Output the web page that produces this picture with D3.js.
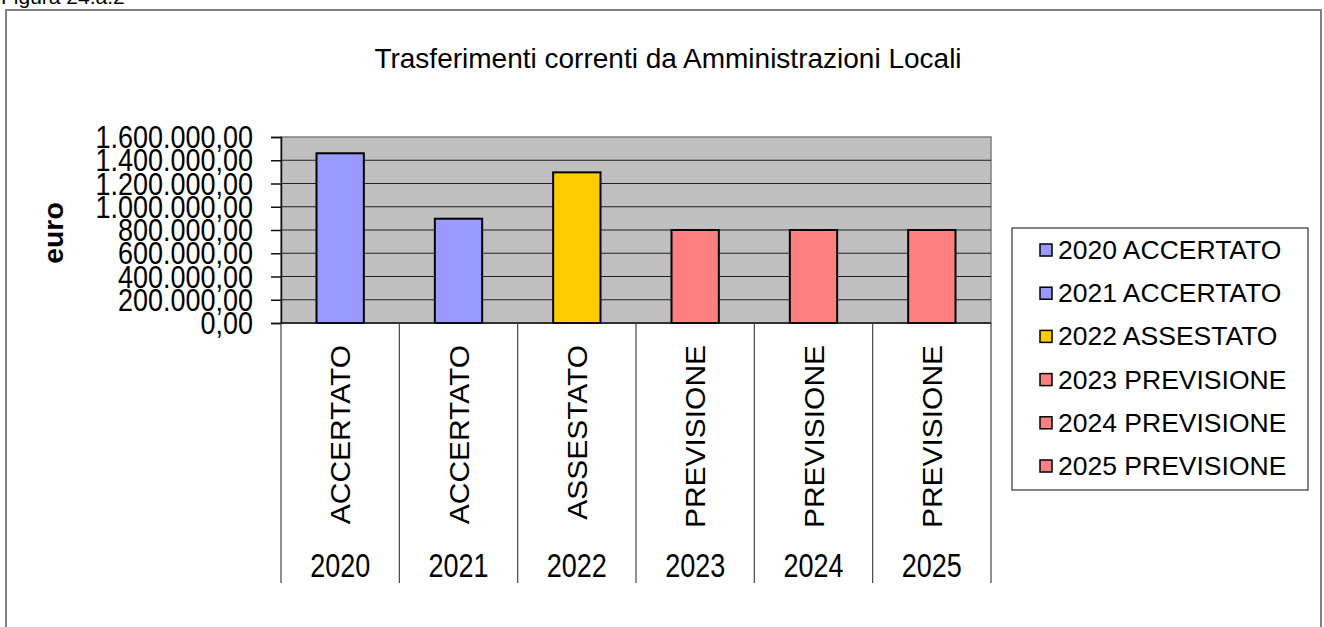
<!DOCTYPE html>
<html>
<head>
<meta charset="utf-8">
<script src="https://cdn.jsdelivr.net/npm/d3@7"></script>
<style>
  body { margin: 0; background: #fff; }
  svg { display: block; font-family: "Liberation Sans", Arial, sans-serif; }
</style>
</head>
<body>
<div id="chart"></div>
<script>
var years = ["2020", "2021", "2022", "2023", "2024", "2025"];
var states = ["ACCERTATO", "ACCERTATO", "ASSESTATO", "PREVISIONE", "PREVISIONE", "PREVISIONE"];
var values = [1460000, 897000, 1296000, 800000, 800000, 800000];
var colors = ["#9999ff", "#9999ff", "#ffcc00", "#ff8080", "#ff8080", "#ff8080"];
var yTicks = [0, 200000, 400000, 600000, 800000, 1000000, 1200000, 1400000, 1600000];

var width = 1324, height = 627;
var plot = { left: 281, right: 991, top: 137, bottom: 323 };

var it = d3.formatLocale({ decimal: ",", thousands: ".", grouping: [3], currency: ["", " €"] });
var fmt = it.format(",.2f");

var svg = d3.select("#chart").append("svg")
    .attr("width", width)
    .attr("height", height);

// caption of the figure, cut off by the top edge
svg.append("text")
    .attr("x", 1).attr("y", 4)
    .style("font-size", "21px")
    .text("Figura 24.a.2");

// outer frame
svg.append("rect")
    .attr("x", 6).attr("y", 10)
    .attr("width", 1315).attr("height", 640)
    .style("fill", "none")
    .style("stroke", "#808080")
    .style("stroke-width", 2);

svg.append("text")
    .attr("x", 668).attr("y", 68)
    .attr("text-anchor", "middle")
    .style("font-size", "28px")
    .text("Trasferimenti correnti da Amministrazioni Locali");

var x = d3.scaleBand()
    .domain(years)
    .range([plot.left, plot.right])
    .padding(0);

var y = d3.scaleLinear()
    .domain([0, 1600000])
    .range([plot.bottom, plot.top]);

// plot area
svg.append("rect")
    .attr("x", plot.left).attr("y", plot.top)
    .attr("width", plot.right - plot.left)
    .attr("height", plot.bottom - plot.top)
    .style("fill", "#c0c0c0")
    .style("stroke", "#808080")
    .style("stroke-width", 1.5);

// gridlines
svg.selectAll(".grid")
    .data(yTicks.filter(function (d) { return d > 0 && d < 1600000; }))
    .enter()
    .append("line")
    .attr("x1", plot.left).attr("x2", plot.right)
    .attr("y1", function (d) { return y(d); })
    .attr("y2", function (d) { return y(d); })
    .style("stroke", "#222")
    .style("stroke-width", 1.2);

// y axis
var yAxis = svg.append("g")
    .attr("transform", "translate(" + plot.left + ",0)")
    .call(d3.axisLeft(y).tickValues(yTicks).tickSize(10).tickFormat(""));
yAxis.select(".domain").style("stroke", "#111").style("stroke-width", 1.5);
yAxis.selectAll(".tick line").style("stroke", "#111").style("stroke-width", 1.5);

svg.selectAll(".ylab")
    .data(yTicks)
    .enter()
    .append("text")
    .attr("text-anchor", "end")
    .attr("transform", function (d) {
        return "translate(253," + y(d) + ") scale(1,1.15)";
    })
    .attr("dy", "0.36em")
    .style("font-size", "27px")
    .text(function (d) { return fmt(d); });

svg.append("text")
    .attr("transform", "translate(63,233) rotate(-90) scale(1.05,1)")
    .attr("text-anchor", "middle")
    .style("font-size", "27px")
    .style("font-weight", "bold")
    .text("euro");

// bars
svg.selectAll(".bar")
    .data(years)
    .enter()
    .append("rect")
    .attr("x", function (d) { return x(d) + x.bandwidth() * 0.3; })
    .attr("y", function (d, i) { return y(values[i]); })
    .attr("width", x.bandwidth() * 0.4)
    .attr("height", function (d, i) { return y(0) - y(values[i]); })
    .style("fill", function (d, i) { return colors[i]; })
    .style("stroke", "#000")
    .style("stroke-width", 2);

// x axis base line
svg.append("line")
    .attr("x1", plot.left).attr("x2", plot.right)
    .attr("y1", plot.bottom).attr("y2", plot.bottom)
    .style("stroke", "#111")
    .style("stroke-width", 1.5);

// category separators
var bounds = years.map(function (d) { return x(d); }).concat([plot.right]);
svg.selectAll(".sep")
    .data(bounds)
    .enter()
    .append("line")
    .attr("x1", function (d) { return d; })
    .attr("x2", function (d) { return d; })
    .attr("y1", plot.bottom).attr("y2", 583)
    .style("stroke", "#444")
    .style("stroke-width", 1.2);

svg.selectAll(".state")
    .data(years)
    .enter()
    .append("text")
    .attr("text-anchor", "end")
    .attr("transform", function (d) {
        return "translate(" + (x(d) + x.bandwidth() / 2) + ",345) rotate(-90) scale(1.07,1)";
    })
    .attr("dy", "0.36em")
    .style("font-size", "28px")
    .text(function (d, i) { return states[i]; });

svg.selectAll(".year")
    .data(years)
    .enter()
    .append("text")
    .attr("text-anchor", "middle")
    .attr("transform", function (d) {
        return "translate(" + (x(d) + x.bandwidth() / 2) + ",577) scale(1,1.22)";
    })
    .style("font-size", "27px")
    .text(function (d) { return d; });

// legend
var legend = svg.append("g");
legend.append("rect")
    .attr("x", 1012).attr("y", 228)
    .attr("width", 296).attr("height", 262)
    .style("fill", "#fff")
    .style("stroke", "#333")
    .style("stroke-width", 1.2);

var items = legend.selectAll(".item")
    .data(years)
    .enter()
    .append("g")
    .attr("transform", function (d, i) { return "translate(1040," + (250 + i * 43.2) + ")"; });

items.append("rect")
    .attr("x", 0).attr("y", -6)
    .attr("width", 12).attr("height", 12)
    .style("fill", function (d, i) { return colors[i]; })
    .style("stroke", "#000")
    .style("stroke-width", 1.5);

items.append("text")
    .attr("x", 18).attr("y", 9)
    .style("font-size", "26.5px")
    .text(function (d, i) { return d + " " + states[i]; });
</script>
</body>
</html>
